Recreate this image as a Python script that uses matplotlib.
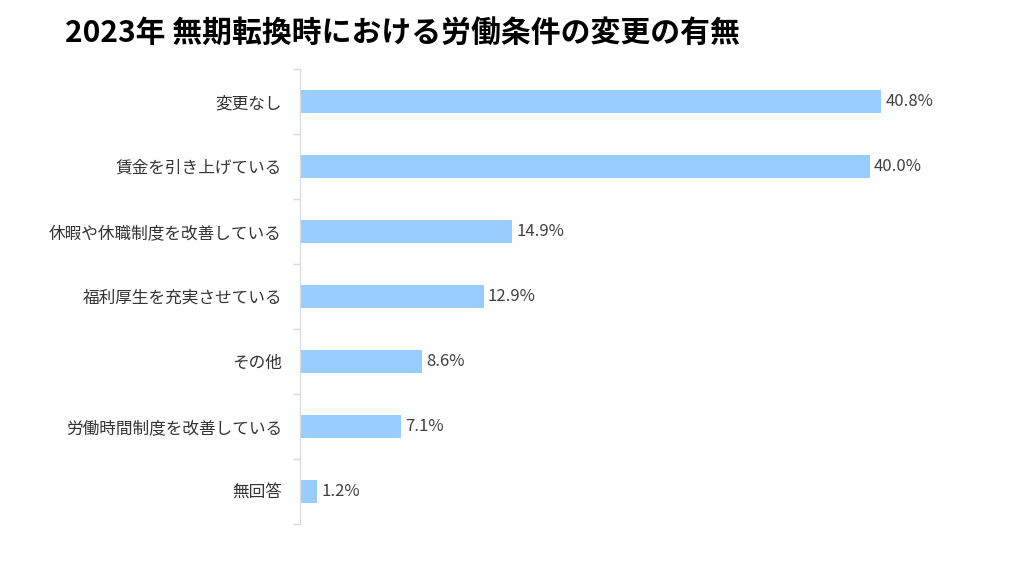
import matplotlib
matplotlib.use("Agg")
import matplotlib.pyplot as plt

plt.rcParams['font.family'] = ['Noto Sans CJK JP', 'DejaVu Sans']

categories = ["変更なし", "賃金を引き上げている", "休暇や休職制度を改善している",
              "福利厚生を充実させている", "その他", "労働時間制度を改善している", "無回答"]
values = [40.8, 40.0, 14.9, 12.9, 8.6, 7.1, 1.2]
value_labels = ["40.8%", "40.0%", "14.9%", "12.9%", "8.6%", "7.1%", "1.2%"]
title = "2023年 無期転換時における労働条件の変更の有無"

fig = plt.figure(figsize=(10.24, 5.76), dpi=100)
ax = fig.add_axes([300/1024, 1-524/576, 650/1024, 455/576])

n = len(categories)
ypos = list(range(n))
ax.barh(ypos, values, height=0.34, color="#99CCFF")
ax.set_ylim(n - 0.5, -0.5)
ax.set_xlim(0, 650/14.24)

for y, v, lab in zip(ypos, values, value_labels):
    ax.text(v + 0.3, y, lab, va="center", ha="left", fontsize=12, color="#404040")

ax.set_yticks(ypos)
ax.set_yticklabels(categories, fontsize=12, color="#333333")
ax.tick_params(axis="y", which="major", length=0, pad=13)
ax.set_yticks([i - 0.5 for i in range(n + 1)], minor=True)
ax.tick_params(axis="y", which="minor", length=5, color="#D9D9D9", width=1)
ax.set_xticks([])
for s in ["top", "right", "bottom"]:
    ax.spines[s].set_visible(False)
ax.spines["left"].set_color("#D9D9D9")

fig.text(65/1024, 1-33/576, title, fontsize=21.5, fontweight="bold", va="center", ha="left", color="black")

fig.savefig("out.png", dpi=100, facecolor="white")
